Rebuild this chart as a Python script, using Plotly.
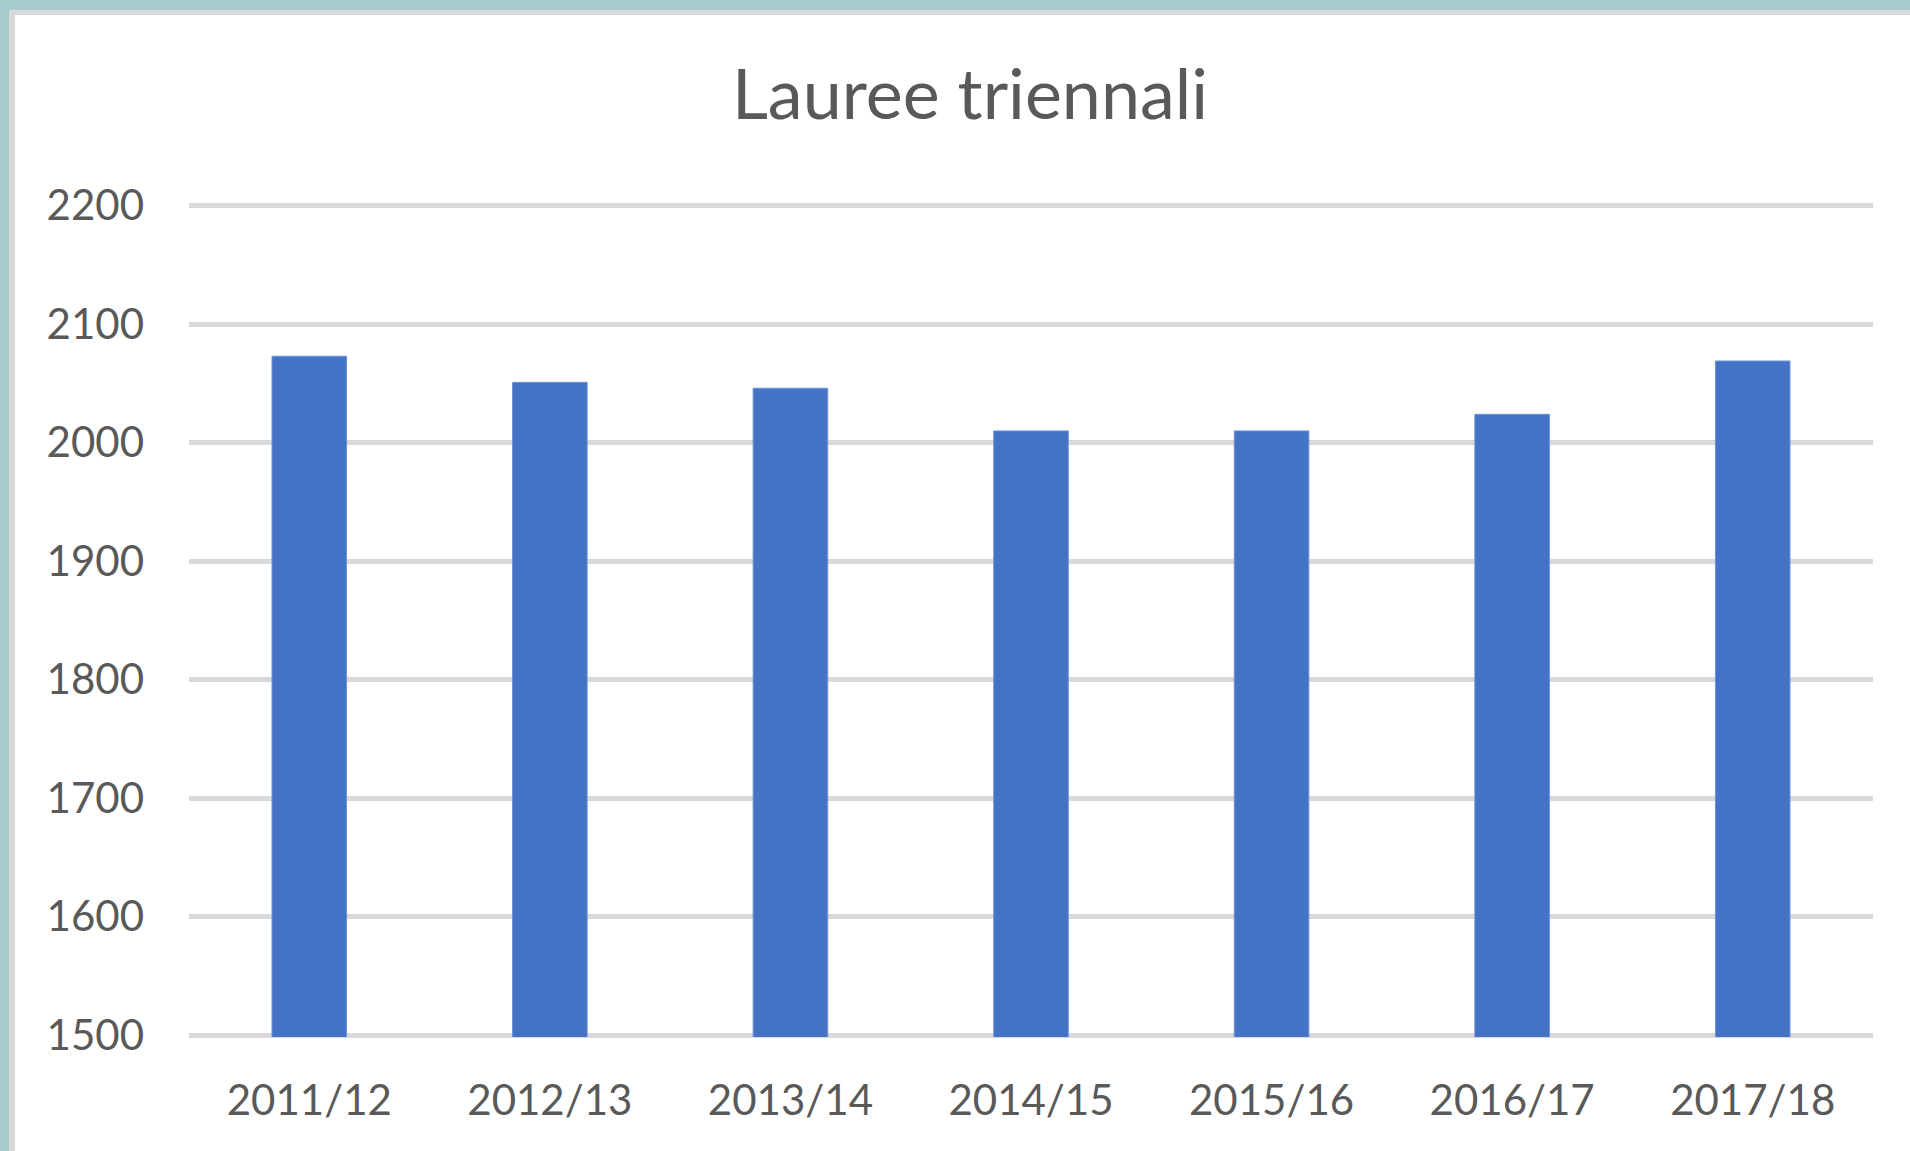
import plotly.graph_objects as go

categories = ["2011/12", "2012/13", "2013/14", "2014/15", "2015/16", "2016/17", "2017/18"]
values = [2073, 2051, 2046, 2010, 2010, 2024, 2069]
y_ticks = [1500, 1600, 1700, 1800, 1900, 2000, 2100, 2200]

W, H = 1910, 1151
ML, MR, MT, MB = 189, 37, 204, 114
PW, PH = W - ML - MR, H - MT - MB


def px_x(px):
    return (px - ML) / PW


def px_y(py):
    return (H - MB - py) / PH


TEXT = "#595959"
FONT = "Lato"

fig = go.Figure()
fig.add_trace(go.Bar(
    x=categories, y=values,
    marker=dict(color="#4472C4", line=dict(color="#6f93d6", width=1)),
    width=0.31,
))

fig.update_layout(
    width=W, height=H,
    margin=dict(l=ML, r=MR, t=MT, b=MB),
    paper_bgcolor="#a6cbcb",
    plot_bgcolor="white",
    showlegend=False,
    title=dict(text="Lauree triennali", x=px_x(970), xref="paper", xanchor="center",
               y=1 - 94 / H, yanchor="middle",
               font=dict(family=FONT, size=70, color=TEXT)),
    font=dict(family=FONT, color=TEXT),
    shapes=[
        dict(type="rect", xref="paper", yref="paper", layer="below",
             x0=px_x(9), x1=px_x(W), y0=px_y(H), y1=px_y(10),
             fillcolor="#d9d9d9", line=dict(width=0)),
        dict(type="rect", xref="paper", yref="paper", layer="below",
             x0=px_x(15), x1=px_x(W), y0=px_y(H), y1=px_y(15),
             fillcolor="white", line=dict(width=0)),
    ],
)

fig.update_yaxes(
    range=[1498.5, 2201.5], tickvals=y_ticks, ticktext=[str(v) for v in y_ticks],
    showgrid=True, gridcolor="#d9d9d9", gridwidth=5,
    zeroline=False, showline=False,
    tickfont=dict(family=FONT, size=42, color=TEXT),
    ticklabelstandoff=44,
)
fig.update_xaxes(
    showgrid=False, showline=False, zeroline=False,
    tickfont=dict(family=FONT, size=42, color=TEXT),
    ticklabelstandoff=35,
)

fig.write_html("out.html", config={"displayModeBar": False},
               post_script="document.body.style.margin='0';")
